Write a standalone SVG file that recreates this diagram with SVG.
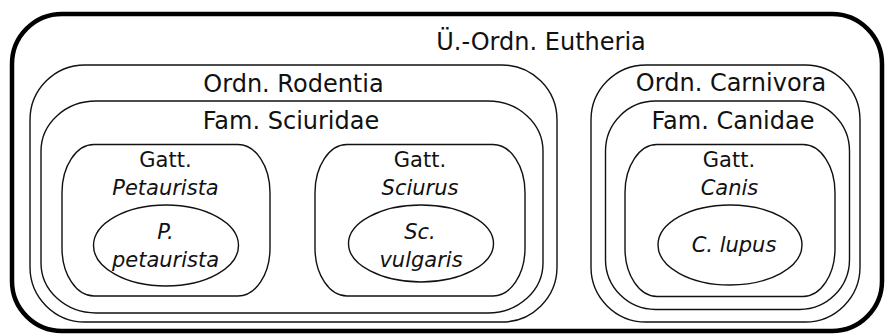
<svg xmlns="http://www.w3.org/2000/svg" width="885" height="334" viewBox="0 0 885 334">
  <style>
    .box { fill: none; stroke: #111; stroke-width: 1.4; }
    .outer { fill: none; stroke: #000; stroke-width: 4.5; }
    .lbl { font-family: "DejaVu Sans", "Liberation Sans", sans-serif; font-size: 24px; fill: #111; text-anchor: middle; }
    .sm { font-family: "DejaVu Sans", "Liberation Sans", sans-serif; font-size: 21px; fill: #111; text-anchor: middle; }
    .it { font-style: italic; }
  </style>
  <rect width="885" height="334" fill="#fff"/>

  <!-- Superorder -->
  <g id="eutheria">
    <rect class="outer" x="12" y="14" width="870" height="317" rx="50" ry="50"/>
    <text class="lbl" x="541" y="50">Ü.-Ordn. Eutheria</text>
  </g>

  <!-- Rodentia branch -->
  <g id="rodentia">
    <rect class="box" x="30" y="65" width="527" height="257" rx="55" ry="55"/>
    <text class="lbl" x="293.5" y="91.5">Ordn. Rodentia</text>
  </g>
  <g id="sciuridae">
    <rect class="box" x="41" y="101" width="502" height="212" rx="55" ry="50"/>
    <text class="lbl" x="291" y="128.5">Fam. Sciuridae</text>
  </g>
  <g id="petaurista">
    <rect class="box" x="62" y="144.5" width="208" height="151.5" rx="32" ry="48"/>
    <text class="sm" x="165.5" y="166.5">Gatt.</text>
    <text class="sm it" x="165.5" y="195">Petaurista</text>
  </g>
  <g id="p-petaurista">
    <ellipse class="box" cx="166" cy="245.5" rx="72.5" ry="40.5"/>
    <text class="sm it" x="165.5" y="238.5">P.</text>
    <text class="sm it" x="165.5" y="266.5">petaurista</text>
  </g>
  <g id="sciurus">
    <rect class="box" x="315" y="144.5" width="210" height="151.5" rx="32" ry="48"/>
    <text class="sm" x="420" y="166.5">Gatt.</text>
    <text class="sm it" x="420" y="195">Sciurus</text>
  </g>
  <g id="sc-vulgaris">
    <ellipse class="box" cx="421" cy="243.5" rx="72.5" ry="38.5"/>
    <text class="sm it" x="420" y="238.5">Sc.</text>
    <text class="sm it" x="421" y="266.5">vulgaris</text>
  </g>

  <!-- Carnivora branch -->
  <g id="carnivora">
    <rect class="box" x="591" y="65" width="269" height="257" rx="55" ry="55"/>
    <text class="lbl" x="731" y="90.5">Ordn. Carnivora</text>
  </g>
  <g id="canidae">
    <rect class="box" x="605.5" y="101" width="244" height="208.5" rx="50" ry="50"/>
    <text class="lbl" x="733" y="128.5">Fam. Canidae</text>
  </g>
  <g id="canis">
    <rect class="box" x="625" y="144.5" width="210" height="152" rx="32" ry="48"/>
    <text class="sm" x="729" y="166.5">Gatt.</text>
    <text class="sm it" x="729.5" y="195">Canis</text>
  </g>
  <g id="c-lupus">
    <ellipse class="box" cx="730" cy="245" rx="72" ry="40"/>
    <text class="sm it" x="734" y="251.5">C. lupus</text>
  </g>
</svg>
